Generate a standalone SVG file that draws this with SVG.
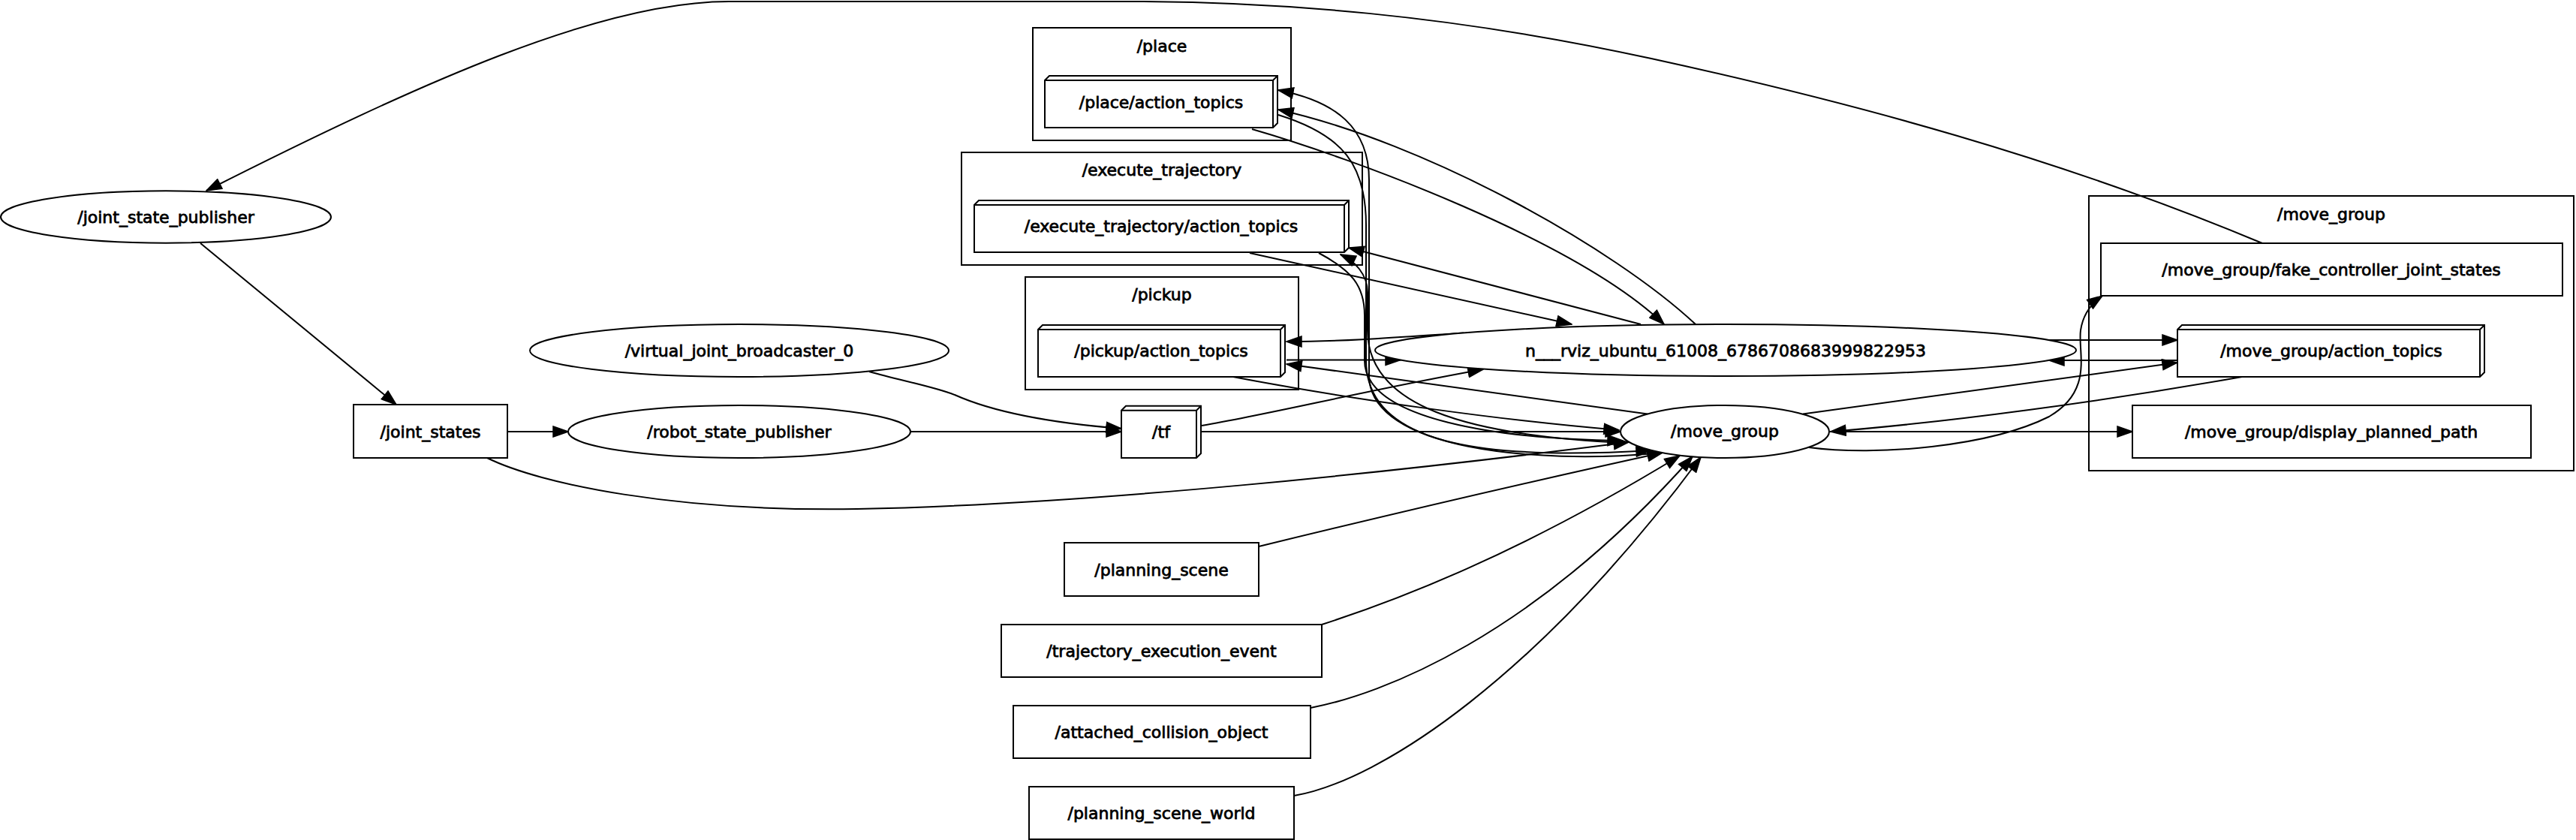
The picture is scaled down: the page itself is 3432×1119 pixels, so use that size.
<svg xmlns="http://www.w3.org/2000/svg" width="3432" height="1119" viewBox="0 0 3432 1119">
<defs>
<marker id="ah" markerUnits="userSpaceOnUse" markerWidth="22" markerHeight="16" viewBox="0 0 22 16" refX="21" refY="8" orient="auto">
<path d="M1,1 L21,8 L1,15 z" fill="#000" stroke="#000" stroke-width="1.5"/>
</marker>
</defs>
<style>
.n{fill:#fff;stroke:#000;stroke-width:2}
.c{fill:none;stroke:#000;stroke-width:2}
.e{fill:none;stroke:#000;stroke-width:2;marker-end:url(#ah)}
.p{fill:none;stroke:#000;stroke-width:2}
text{font-family:"DejaVu Sans","Liberation Sans",sans-serif;font-size:22px;text-anchor:middle;fill:#000;stroke:#000;stroke-width:0.8}
</style>
<rect width="3432" height="1119" fill="#fff"/>

<g id="cluster_place"><rect class="c" x="1376" y="37" width="344" height="150"/><text x="1548" y="69">/place</text></g>
<g id="cluster_execute_trajectory"><rect class="c" x="1281" y="203" width="534" height="150"/><text x="1548" y="234">/execute_trajectory</text></g>
<g id="cluster_pickup"><rect class="c" x="1366" y="369" width="364" height="150"/><text x="1548" y="400">/pickup</text></g>
<g id="cluster_move_group"><rect class="c" x="2783" y="261" width="646" height="366"/><text x="3106" y="293">/move_group</text></g>

<g id="edges">
<path class="e" d="M3014,324 C2744,211 2470,137 2200,78 C1930,19 1700,2 1500,2 L971,2 C800,2 560,110 275,254"/>
<path class="e" d="M267,324 L528,539"/>
<path class="e" d="M676,575 L757,575"/>
<path class="e" d="M1213,575 L1494,575"/>
<path class="e" d="M1158,495 C1200,507 1245,515 1272,526 C1330,552 1420,565 1494,571"/>
<path class="e" d="M649,610 C720,645 900,682 1142,678 C1450,672 1850,630 2170,589"/>
<path class="e" d="M1601,567 C1700,550 1820,520 1976,492"/>
<path class="e" d="M1601,575 L2159,575"/>
<path class="e" d="M1950,443.5 C1880,448 1800,455 1714,455"/>
<path class="e" d="M1714,479.5 L1866,479.5"/>
<path class="e" d="M2195,551.5 L1714,485"/>
<path class="e" d="M1643,502 C1800,532 2000,560 2157,573"/>
<path class="e" d="M1665,337 L2094,432"/>
<path class="e" d="M2186,432 L1797,330"/>
<path class="e" d="M1668,172 C1800,210 2100,320 2217,432"/>
<path class="e" d="M2259,432 C2150,330 1900,190 1703,146"/>
<path class="e" d="M2205,604 C2050,618 1824,600 1824,500 L1824,240 C1824,170 1780,135 1703,120"/>
<path class="e" d="M1703,153 C1790,180 1820,220 1820,300 L1820,480 C1820,600 2000,612 2200,600"/>
<path class="e" d="M2165,590 C1950,580 1822,540 1822,440 L1822,390 C1822,365 1805,348 1786,339"/>
<path class="e" d="M1757,337 C1800,360 1818,380 1818,420 L1818,480 C1818,560 2000,585 2162,587"/>
<path class="e" d="M2730,453 L2901,453"/>
<path class="e" d="M2901,480 L2730,480"/>
<path class="e" d="M2402,551.5 L2901,483"/>
<path class="e" d="M2987,502 C2800,535 2600,562 2439,575"/>
<path class="e" d="M2437,575 L2841,575"/>
<path class="e" d="M2410,596 C2500,608 2650,595 2730,555 C2790,520 2768,470 2772,440 C2775,420 2785,405 2801,394"/>
<path class="e" d="M1677,728 C1800,698 2000,650 2215,603"/>
<path class="e" d="M1761,832 C1860,800 2020,740 2238,607"/>
<path class="e" d="M1746,943 C1840,925 2040,850 2255,608"/>
<path class="e" d="M1724,1060 C1840,1040 2050,900 2266,609"/>
</g>

<g id="joint_state_publisher"><ellipse class="n" cx="221" cy="289" rx="220" ry="34.7"/><text x="221" y="297">/joint_state_publisher</text></g>
<g id="joint_states"><rect class="n" x="471" y="539" width="205" height="71"/><text x="573.5" y="583">/joint_states</text></g>
<g id="robot_state_publisher"><ellipse class="n" cx="985" cy="575" rx="228" ry="35"/><text x="985" y="583">/robot_state_publisher</text></g>
<g id="virtual_joint_broadcaster_0"><ellipse class="n" cx="985" cy="467" rx="279" ry="35"/><text x="985" y="475">/virtual_joint_broadcaster_0</text></g>
<g id="tf"><path class="n" d="M1494,546.7 L1500,540.7 L1600,540.7 L1600,604 L1594,610 L1494,610 Z"/><path class="p" d="M1494,546.7 L1594,546.7 L1594,610 M1594,546.7 L1600,540.7"/><text x="1547" y="583">/tf</text></g>
<g id="place_action_topics"><path class="n" d="M1392,107 L1398,101 L1702,101 L1702,164 L1696,170 L1392,170 Z"/><path class="p" d="M1392,107 L1696,107 L1696,170 M1696,107 L1702,101"/><text x="1547" y="144">/place/action_topics</text></g>
<g id="execute_trajectory_action_topics"><path class="n" d="M1298,273 L1304,267 L1797,267 L1797,330 L1791,336 L1298,336 Z"/><path class="p" d="M1298,273 L1791,273 L1791,336 M1791,273 L1797,267"/><text x="1547" y="309">/execute_trajectory/action_topics</text></g>
<g id="pickup_action_topics"><path class="n" d="M1383,439 L1389,433 L1712,433 L1712,496 L1706,502 L1383,502 Z"/><path class="p" d="M1383,439 L1706,439 L1706,502 M1706,439 L1712,433"/><text x="1547" y="475">/pickup/action_topics</text></g>
<g id="rviz"><ellipse class="n" cx="2299" cy="466.5" rx="467" ry="34.5"/><text x="2299" y="475">n___rviz_ubuntu_61008_6786708683999822953</text></g>
<g id="move_group"><ellipse class="n" cx="2298" cy="575" rx="139" ry="35"/><text x="2298" y="582">/move_group</text></g>
<g id="fake_controller_joint_states"><rect class="n" x="2799" y="324" width="615" height="70"/><text x="3106" y="367">/move_group/fake_controller_joint_states</text></g>
<g id="move_group_action_topics"><path class="n" d="M2901,439 L2907,433 L3310,433 L3310,496 L3304,502 L2901,502 Z"/><path class="p" d="M2901,439 L3304,439 L3304,502 M3304,439 L3310,433"/><text x="3106" y="475">/move_group/action_topics</text></g>
<g id="display_planned_path"><rect class="n" x="2841" y="540" width="531" height="70"/><text x="3106" y="583">/move_group/display_planned_path</text></g>
<g id="planning_scene"><rect class="n" x="1418" y="723" width="259" height="71"/><text x="1547.5" y="767">/planning_scene</text></g>
<g id="trajectory_execution_event"><rect class="n" x="1334" y="832" width="427" height="70"/><text x="1547.5" y="875">/trajectory_execution_event</text></g>
<g id="attached_collision_object"><rect class="n" x="1350" y="940" width="396" height="70"/><text x="1547.5" y="983">/attached_collision_object</text></g>
<g id="planning_scene_world"><rect class="n" x="1371" y="1048" width="353" height="70"/><text x="1547.5" y="1091">/planning_scene_world</text></g>
</svg>
